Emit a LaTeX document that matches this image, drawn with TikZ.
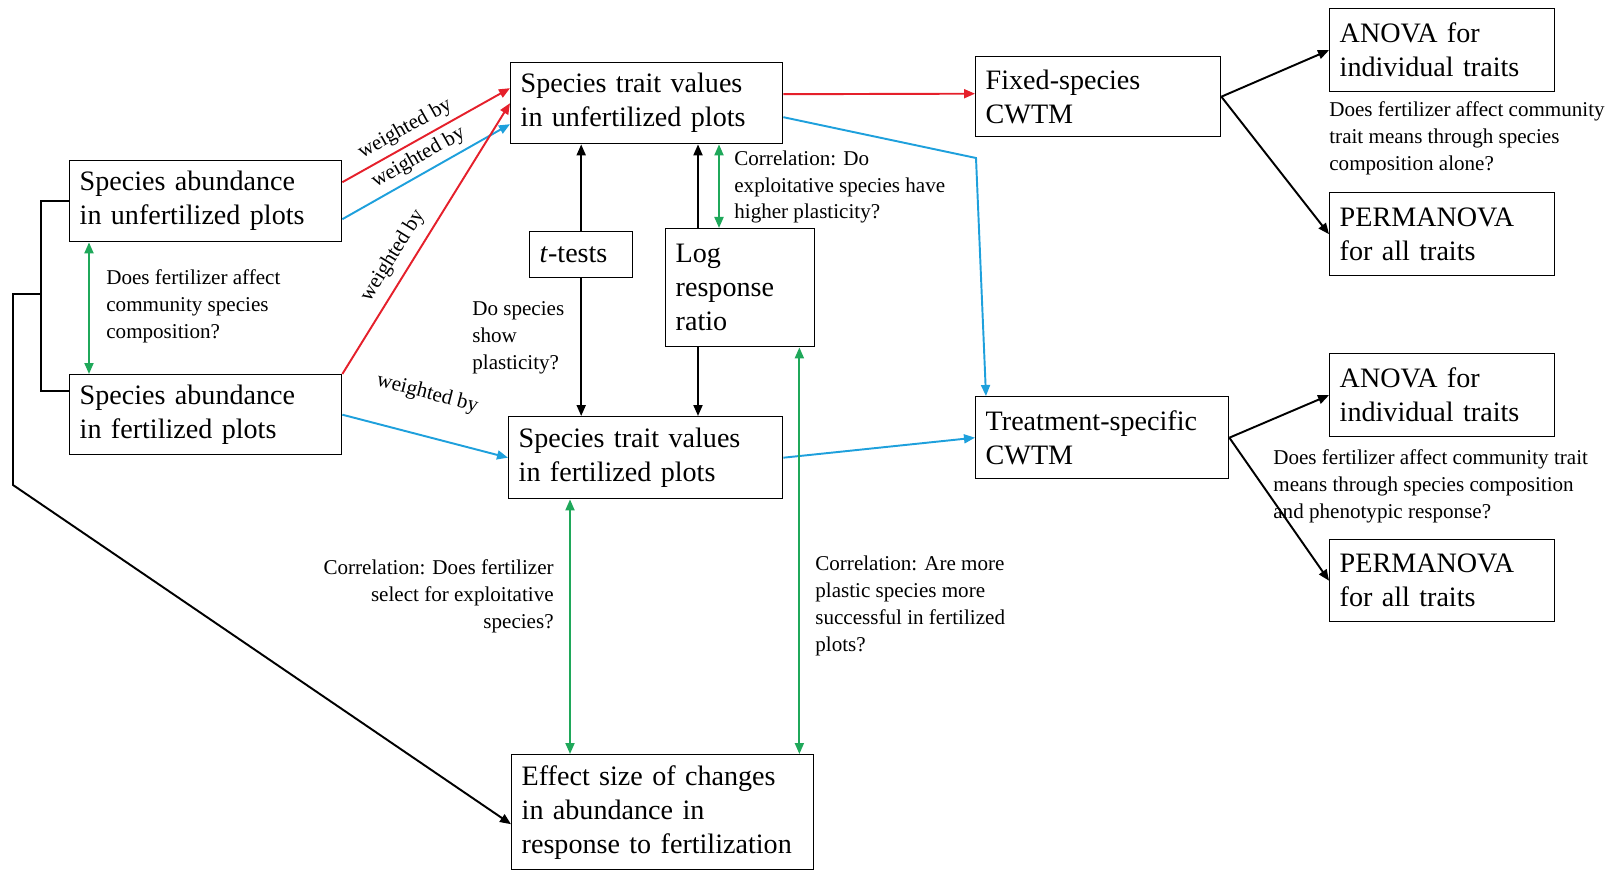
\documentclass[tikz,border=0pt]{standalone}
\usepackage{fontspec}
\setmainfont{Liberation Serif}
\usetikzlibrary{arrows.meta,calc}
\definecolor{wred}{HTML}{E5202B}
\definecolor{wblue}{HTML}{1EA0DC}
\definecolor{corr}{HTML}{1FA85A}
\newcommand{\boxfont}{\fontsize{16}{19.3}\selectfont}
\newcommand{\notefont}{\fontsize{12}{15.3}\selectfont}
\tikzset{
  box/.style={draw, line width=0.8pt, anchor=north west, align=left, inner xsep=0.2cm, inner ysep=0pt, font=\boxfont},
  note/.style={font=\notefont, text=black, inner sep=0pt, align=left},
  arr/.style={line width=1.1pt, -{Triangle[length=2.2mm,width=1.8mm]}},
  dbl/.style={line width=1.1pt, {Triangle[length=2.2mm,width=1.8mm]}-{Triangle[length=2.2mm,width=1.8mm]}},
}

\begin{document}
\begin{tikzpicture}[x=0.02cm, y=-0.02cm]
  \useasboundingbox (0,0) rectangle (1619,871);

  % abundance boxes
  \node[box, text width=5.04cm, minimum height=1.62cm] (A) at (69,160) {Species abundance\\in unfertilized plots};
  \node[box, text width=5.04cm, minimum height=1.6cm] (B) at (69,374) {Species abundance\\in fertilized plots};

  % trait value boxes
  \node[box, text width=5.04cm, minimum height=1.62cm] (C) at (510,62) {Species trait values\\in unfertilized plots};
  \node[box, text width=5.08cm, minimum height=1.64cm] (D) at (508,416) {Species trait values\\in fertilized plots};
  \node[box, text width=1.66cm, minimum height=0.92cm] (T) at (529,231) {\textit{t}-tests};
  \node[box, text width=2.58cm, minimum height=2.36cm] (L) at (665,228) {Log\\response\\ratio};
  \node[box, text width=5.64cm, minimum height=2.3cm] (E) at (511,754) {Effect size of changes\\in abundance in\\response to fertilization};

  % CWTM and tests
  \node[box, text width=4.5cm, minimum height=1.6cm] (F) at (975,56) {Fixed-species\\CWTM};
  \node[box, text width=4.66cm, minimum height=1.64cm] (TS) at (975,396) {Treatment-specific\\CWTM};
  \node[box, text width=4.1cm, minimum height=1.66cm] (AN1) at (1329,8) {ANOVA for\\individual traits};
  \node[box, text width=4.1cm, minimum height=1.66cm] (PM1) at (1329,192) {PERMANOVA\\for all traits};
  \node[box, text width=4.1cm, minimum height=1.66cm] (AN2) at (1329,353) {ANOVA for\\individual traits};
  \node[box, text width=4.1cm, minimum height=1.64cm] (PM2) at (1329,539) {PERMANOVA\\for all traits};

  % questions
  \node[note, anchor=west] (q1) at (106,306) {Does fertilizer affect\\community species\\composition?};
  \node[note, anchor=west] (q2) at (472,338) {Do species\\show\\plasticity?};
  \node[note, anchor=west] (q3) at (734,187) {Correlation: Do\\exploitative species have\\higher plasticity?};
  \node[note, anchor=east, align=right] (q4) at (554,596) {Correlation: Does fertilizer\\select for exploitative\\species?};
  \node[note, anchor=west] (q5) at (815,606) {Correlation: Are more\\plastic species more\\successful in fertilized\\plots?};
  \node[note, anchor=west] (q6) at (1329,138) {Does fertilizer affect community\\trait means through species\\composition alone?};
  \node[note, anchor=west] (q7) at (1273,486) {Does fertilizer affect community trait\\means through species composition\\and phenotypic response?};

  % weighting
  \draw[arr, wred] ($(A.east)+(0,-19)$) -- node[note, sloped, above=3pt, pos=0.42] {weighted by} ($(C.west)+(0,-15)$);
  \draw[arr, wblue] ($(A.east)+(0,18)$) -- node[note, sloped, above=3pt, pos=0.5] {weighted by} ($(C.west)+(0,21)$);
  \draw[arr, wred] (B.north east) -- node[note, sloped, above=5pt, pos=0.4] {weighted by} (C.west);
  \draw[arr, wblue] (B.east) -- node[note, sloped, above=0.62cm, pos=0.45] {weighted by} (D.west);

  % trait values to CWTM
  \coordinate (bend) at (976,158);
  \draw[arr, wred] ($(C.east)+(0,-9)$) -- ($(F.west)+(0,-3)$);
  \draw[arr, wblue] ($(C.east)+(0,14)$) -- (bend) -- ($(TS.north west)+(11,0)$);
  \draw[arr, wblue] (D.east) -- (TS.west);

  % tests between trait values
  \coordinate (lr) at ($(L.north west)+(33,0)$);
  \coordinate (lb) at ($(L.south west)+(33,0)$);
  \draw[arr] (T.north) -- (T.north |- C.south);
  \draw[arr] (T.south) -- (T.south |- D.north);
  \draw[arr] (lr) -- (lr |- C.south);
  \draw[arr] (lb) -- (lb |- D.north);

  % correlations
  \coordinate (g1) at ($(L.north west)+(54,0)$);
  \coordinate (g2) at ($(D.south west)+(62,0)$);
  \coordinate (g3) at ($(L.south east)+(-16,0)$);
  \coordinate (g4) at ($(A.south west)+(20,0)$);
  \draw[dbl, corr] (g1 |- C.south) -- (g1);
  \draw[dbl, corr] (g2) -- (g2 |- E.north);
  \draw[dbl, corr] (g3) -- (g3 |- E.north);
  \draw[dbl, corr] (g4) -- (g4 |- B.north);

  % analyses
  \draw[arr] (F.east) -- (AN1.west);
  \draw[arr] (F.east) -- (PM1.west);
  \draw[arr] (TS.east) -- (AN2.west);
  \draw[arr] (TS.east) -- (PM2.west);

  % grouping bracket
  \coordinate (brk) at (41,294);
  \draw[line width=1.1pt] (A.west) -- ++(-28,0) |- ($(B.west)+(0,-24)$);
  \draw[arr] (brk) -- ++(-28,0) -- ++(0,191) -- ($(E.west)+(0,12)$);
\end{tikzpicture}
\end{document}
